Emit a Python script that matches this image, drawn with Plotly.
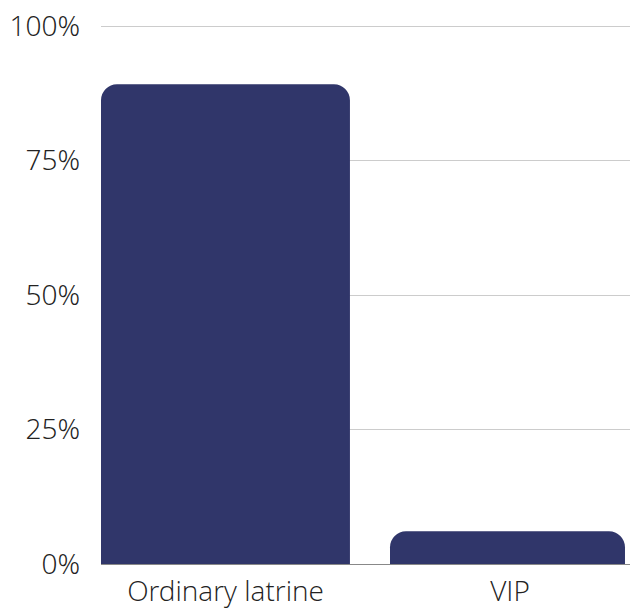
import plotly.graph_objects as go

categories = ["Ordinary latrine", "VIP"]
values = [89.2, 6.1]
y_ticks = [0, 25, 50, 75, 100]
y_tick_labels = ["0%", "25%", "50%", "75%", "100%"]

bar_color = "#30366a"
font_family = "Open Sans Light, Open Sans"

fig = go.Figure(
    go.Bar(
        x=categories,
        y=values,
        marker=dict(color=bar_color, line=dict(width=0)),
        width=[0.875, 0.826],
        offset=[-0.4376, -0.4218],
        hoverinfo="skip",
    )
)

fig.update_layout(
    width=630,
    height=609,
    margin=dict(l=101, r=0, t=24, b=45),
    paper_bgcolor="white",
    plot_bgcolor="white",
    barcornerradius=16,
    showlegend=False,
    font=dict(family=font_family, size=28, color="#222222", weight=300),
    xaxis=dict(
        range=[-0.4376, 1.4218],
        showgrid=False,
        showline=False,
        zeroline=False,
        ticks="",
        automargin=False,
        ticklabelstandoff=8,
        tickfont=dict(size=28, family=font_family, weight=300, color="#222222"),
    ),
    yaxis=dict(
        range=[0, 100.4],
        tickvals=y_ticks,
        ticktext=y_tick_labels,
        showgrid=True,
        gridcolor="#cccccc",
        gridwidth=1,
        zeroline=True,
        zerolinecolor="#888888",
        zerolinewidth=1,
        showline=False,
        ticks="",
        automargin=False,
        ticklabelstandoff=20,
        tickfont=dict(size=28, family=font_family, weight=300, color="#222222"),
    ),
)

fig.write_html(
    "out.html",
    config={"displayModeBar": False},
    post_script="document.body.style.margin='0';document.body.style.overflow='hidden';",
)
